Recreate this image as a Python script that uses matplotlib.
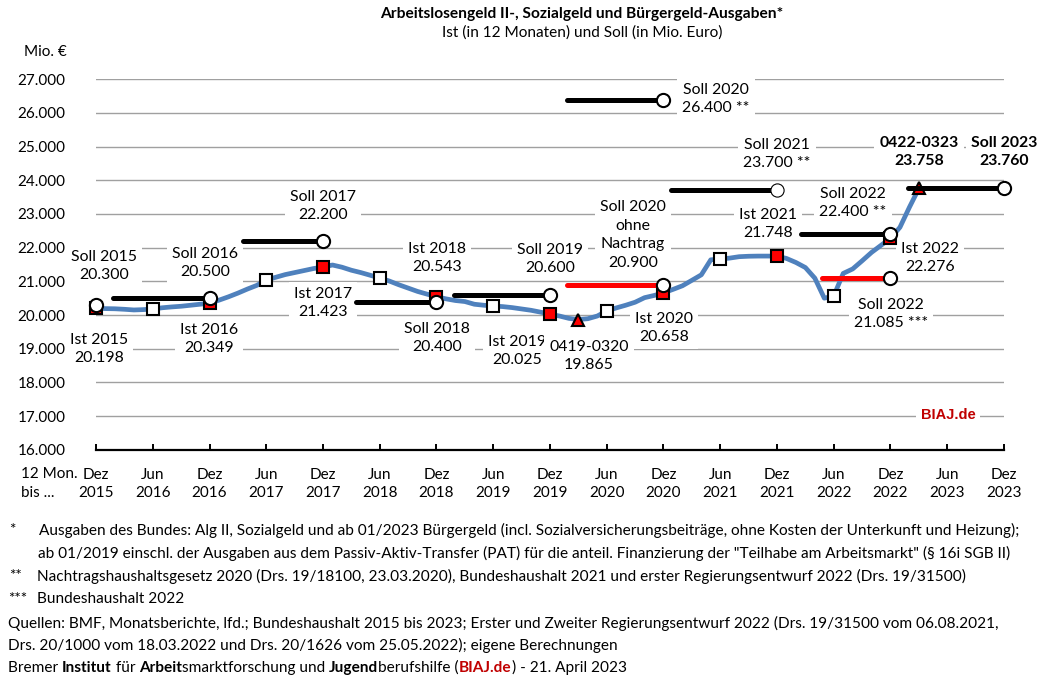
import matplotlib.pyplot as plt

W, H = 1052, 687
plt.rcParams['font.family'] = ['Lato', 'DejaVu Sans']

# Ist, monthly, months counted from Dez 2015
ist_months = list(range(88))
ist_values = [20198, 20190, 20185, 20170, 20150, 20160, 20178,
              20215, 20240, 20260, 20290, 20320, 20349,
              20440, 20540, 20650, 20770, 20880, 21040,
              21120, 21200, 21260, 21320, 21380, 21423,
              21485, 21420, 21330, 21260, 21180, 21100,
              21010, 20900, 20800, 20700, 20620, 20543,
              20480, 20430, 20400, 20320, 20290, 20268,
              20250, 20220, 20180, 20140, 20085, 20025,
              19970, 19900, 19865, 19890, 19970, 20120,
              20210, 20290, 20380, 20515, 20580, 20658,
              20760, 20868, 21030, 21194, 21640, 21663,
              21690, 21732, 21745, 21750, 21750, 21748,
              21680, 21560, 21410, 21095, 20500, 20565,
              21235, 21368, 21610, 21860, 22070, 22276,
              22605, 23200, 23758]

jun_months = [6, 18, 30, 42, 54, 66, 78]
dez_months = [0, 12, 24, 36, 48, 60, 72, 84]
tri_months = [51, 87]

# Soll lines
soll_start = [1.8, 15.5, 27.5, 37.8, 49.8, 60.8, 74.5, 85.8]
soll_end = [12, 24, 36, 48, 60, 72, 84, 96]
soll_values = [20500, 22200, 20400, 20600, 26400, 23700, 22400, 23760]
red_start = [49.8, 76.8]
red_end = [60, 84]
red_values = [20900, 21085]
soll_2015_month = 0
soll_2015_value = 20300

tick_months = list(range(0, 97, 6))
tick_labels = ['Dez\n2015', 'Jun\n2016', 'Dez\n2016', 'Jun\n2017', 'Dez\n2017', 'Jun\n2018',
               'Dez\n2018', 'Jun\n2019', 'Dez\n2019', 'Jun\n2020', 'Dez\n2020', 'Jun\n2021',
               'Dez\n2021', 'Jun\n2022', 'Dez\n2022', 'Jun\n2023', 'Dez\n2023']
y_ticks = list(range(16000, 27001, 1000))
y_labels = [f'{v // 1000}.000' for v in y_ticks]

# text, centre x, centre y in pixels, bold
labels = [
    ('Soll 2015\n20.300', 104, 266, False),
    ('Soll 2016\n20.500', 205, 263, False),
    ('Soll 2017\n22.200', 323, 206, False),
    ('Ist 2015\n20.198', 99, 349, False),
    ('Ist 2016\n20.349', 209, 339, False),
    ('Ist 2017\n21.423', 323, 303, False),
    ('Ist 2018\n20.543', 437, 258, False),
    ('Soll 2018\n20.400', 437, 338, False),
    ('Ist 2019\n20.025', 517, 351, False),
    ('Soll 2019\n20.600', 550, 259, False),
    ('Soll 2020\n26.400 **', 716, 99, False),
    ('Soll 2021\n23.700 **', 777, 154, False),
    ('0422-0323\n23.758', 919, 152, True),
    ('Soll 2023\n23.760', 1004, 152, True),
    ('Soll 2022\n22.400 **', 853, 203, False),
    ('Soll 2020\nohne\nNachtrag\n20.900', 633, 235, False),
    ('Ist 2021\n21.748', 768, 224, False),
    ('Ist 2022\n22.276', 930, 258, False),
    ('Soll 2022\n21.085 ***', 891, 314, False),
    ('Ist 2020\n20.658', 664, 328, False),
    ('0419-0320\n19.865', 589, 356, False),
]

notes = [
    ('*', 9, 530),
    ('Ausgaben des Bundes: Alg II, Sozialgeld und ab 01/2023 Bürgergeld (incl. Sozialversicherungsbeiträge, ohne Kosten der Unterkunft und Heizung);', 39, 530),
    ('ab 01/2019 einschl. der Ausgaben aus dem Passiv-Aktiv-Transfer (PAT) für die anteil. Finanzierung der "Teilhabe am Arbeitsmarkt" (§ 16i SGB II)', 38, 553),
    ('**', 9, 576),
    ('Nachtragshaushaltsgesetz 2020 (Drs. 19/18100, 23.03.2020), Bundeshaushalt 2021 und erster Regierungsentwurf 2022 (Drs. 19/31500)', 37, 576),
    ('***', 8, 599),
    ('Bundeshaushalt 2022', 37, 599),
    ('Quellen: BMF, Monatsberichte, lfd.; Bundeshaushalt 2015 bis 2023; Erster und Zweiter Regierungsentwurf 2022 (Drs. 19/31500 vom 06.08.2021,', 8, 623),
    ('Drs. 20/1000 vom 18.03.2022 und Drs. 20/1626 vom 25.05.2022); eigene Berechnungen', 8, 645),
]
credit = [('Bremer ', 'normal', 'black'), ('Institut', 'bold', 'black'), (' für ', 'normal', 'black'),
          ('Arbeit', 'bold', 'black'), ('smarktforschung und ', 'normal', 'black'),
          ('Jugend', 'bold', 'black'), ('berufshilfe (', 'normal', 'black'),
          ('BIAJ.de', 'bold', '#C00000'), (') - 21. April 2023', 'normal', 'black')]


def px(x, y):
    return x / W, 1 - y / H


fig = plt.figure(figsize=(W / 100, H / 100), dpi=100)
ax = fig.add_axes([96 / W, 1 - 449.7 / H, 908 / W, 370.4 / H])

ax.set_xlim(0, 96)
ax.set_ylim(16000, 27000)
ax.set_axisbelow(True)
ax.grid(axis='y', color='#A0A0A0', linewidth=1)
for side in ['top', 'left', 'right']:
    ax.spines[side].set_visible(False)
ax.spines['bottom'].set_linewidth(1.6)
ax.set_xticks(tick_months, tick_labels)
ax.set_yticks(y_ticks, y_labels)
ax.tick_params(axis='x', direction='in', length=4, width=1.4, pad=13, labelsize=11)
ax.tick_params(axis='y', length=0, pad=22, labelsize=11)
for t in ax.get_xticklabels():
    t.set_linespacing(1.42)

ist = dict(zip(ist_months, ist_values))
ax.plot(ist_months, ist_values, color='#4F81BD', linewidth=3.4, zorder=3, clip_on=False)
ax.plot(jun_months, [ist[m] for m in jun_months], 's', ms=8, mfc='white', mec='black', mew=1.5, zorder=4, clip_on=False)
ax.plot(dez_months, [ist[m] for m in dez_months], 's', ms=8, mfc='#FF0000', mec='black', mew=1.5, zorder=4, clip_on=False)
ax.plot(tri_months, [ist[m] for m in tri_months], '^', ms=9, mfc='#FF0000', mec='black', mew=1.5, zorder=4, clip_on=False)

for s, e, v in zip(soll_start, soll_end, soll_values):
    ax.plot([s, e], [v, v], color='black', linewidth=3.6, solid_capstyle='round', zorder=5, clip_on=False)
for s, e, v in zip(red_start, red_end, red_values):
    ax.plot([s, e], [v, v], color='#FF0000', linewidth=3.6, solid_capstyle='round', zorder=5, clip_on=False)
for m, v in zip(soll_end + red_end + [soll_2015_month], soll_values + red_values + [soll_2015_value]):
    # the 2021 circle is drawn thinner in the original
    ax.plot([m], [v], 'o', ms=9.5, mfc='white', mec='black', mew=0.8 if v == 23700 else 1.5,
            zorder=6, clip_on=False)

for text, x, y, bold in labels:
    fx, fy = px(x, y)
    ax.text(fx, fy, text, transform=fig.transFigure, ha='center', va='center', ma='center',
            fontsize=11.4, fontweight='bold' if bold else 'normal', linespacing=1.4, zorder=2, clip_on=False,
            bbox=dict(facecolor='white', edgecolor='none', pad=3.5))

fig.text(*px(582, 14), 'Arbeitslosengeld II-, Sozialgeld und Bürgergeld-Ausgaben*', ha='center', va='center',
         fontsize=11.2, fontweight='bold')
fig.text(*px(582, 33), 'Ist (in 12 Monaten) und Soll (in Mio. Euro)', ha='center', va='center', fontsize=11.1)
fig.text(*px(24, 52), 'Mio. €', ha='left', va='center', fontsize=11)
fig.text(*px(21, 474), '12 Mon.', ha='left', va='center', fontsize=11)
fig.text(*px(21, 493), 'bis ...', ha='left', va='center', fontsize=11)
ax.text(*px(948, 415), 'BIAJ.de', transform=fig.transFigure, ha='center', va='center', fontsize=10.5,
        fontweight='bold', color='#C00000', family='Liberation Sans', zorder=2,
        bbox=dict(facecolor='white', edgecolor='none', pad=3))

for text, x, y in notes:
    fig.text(*px(x, y), text, ha='left', va='center', fontsize=11.1)

prev = fig.text(*px(8, 668), credit[0][0], ha='left', va='center', fontsize=11.1)
for text, weight, color in credit[1:]:
    prev = ax.annotate(text, xy=(1, 0), xycoords=prev, xytext=(0, 0), textcoords='offset points',
                       ha='left', va='bottom', fontsize=11.1, fontweight=weight, color=color,
                       annotation_clip=False)

fig.savefig('out.png', dpi=100)
